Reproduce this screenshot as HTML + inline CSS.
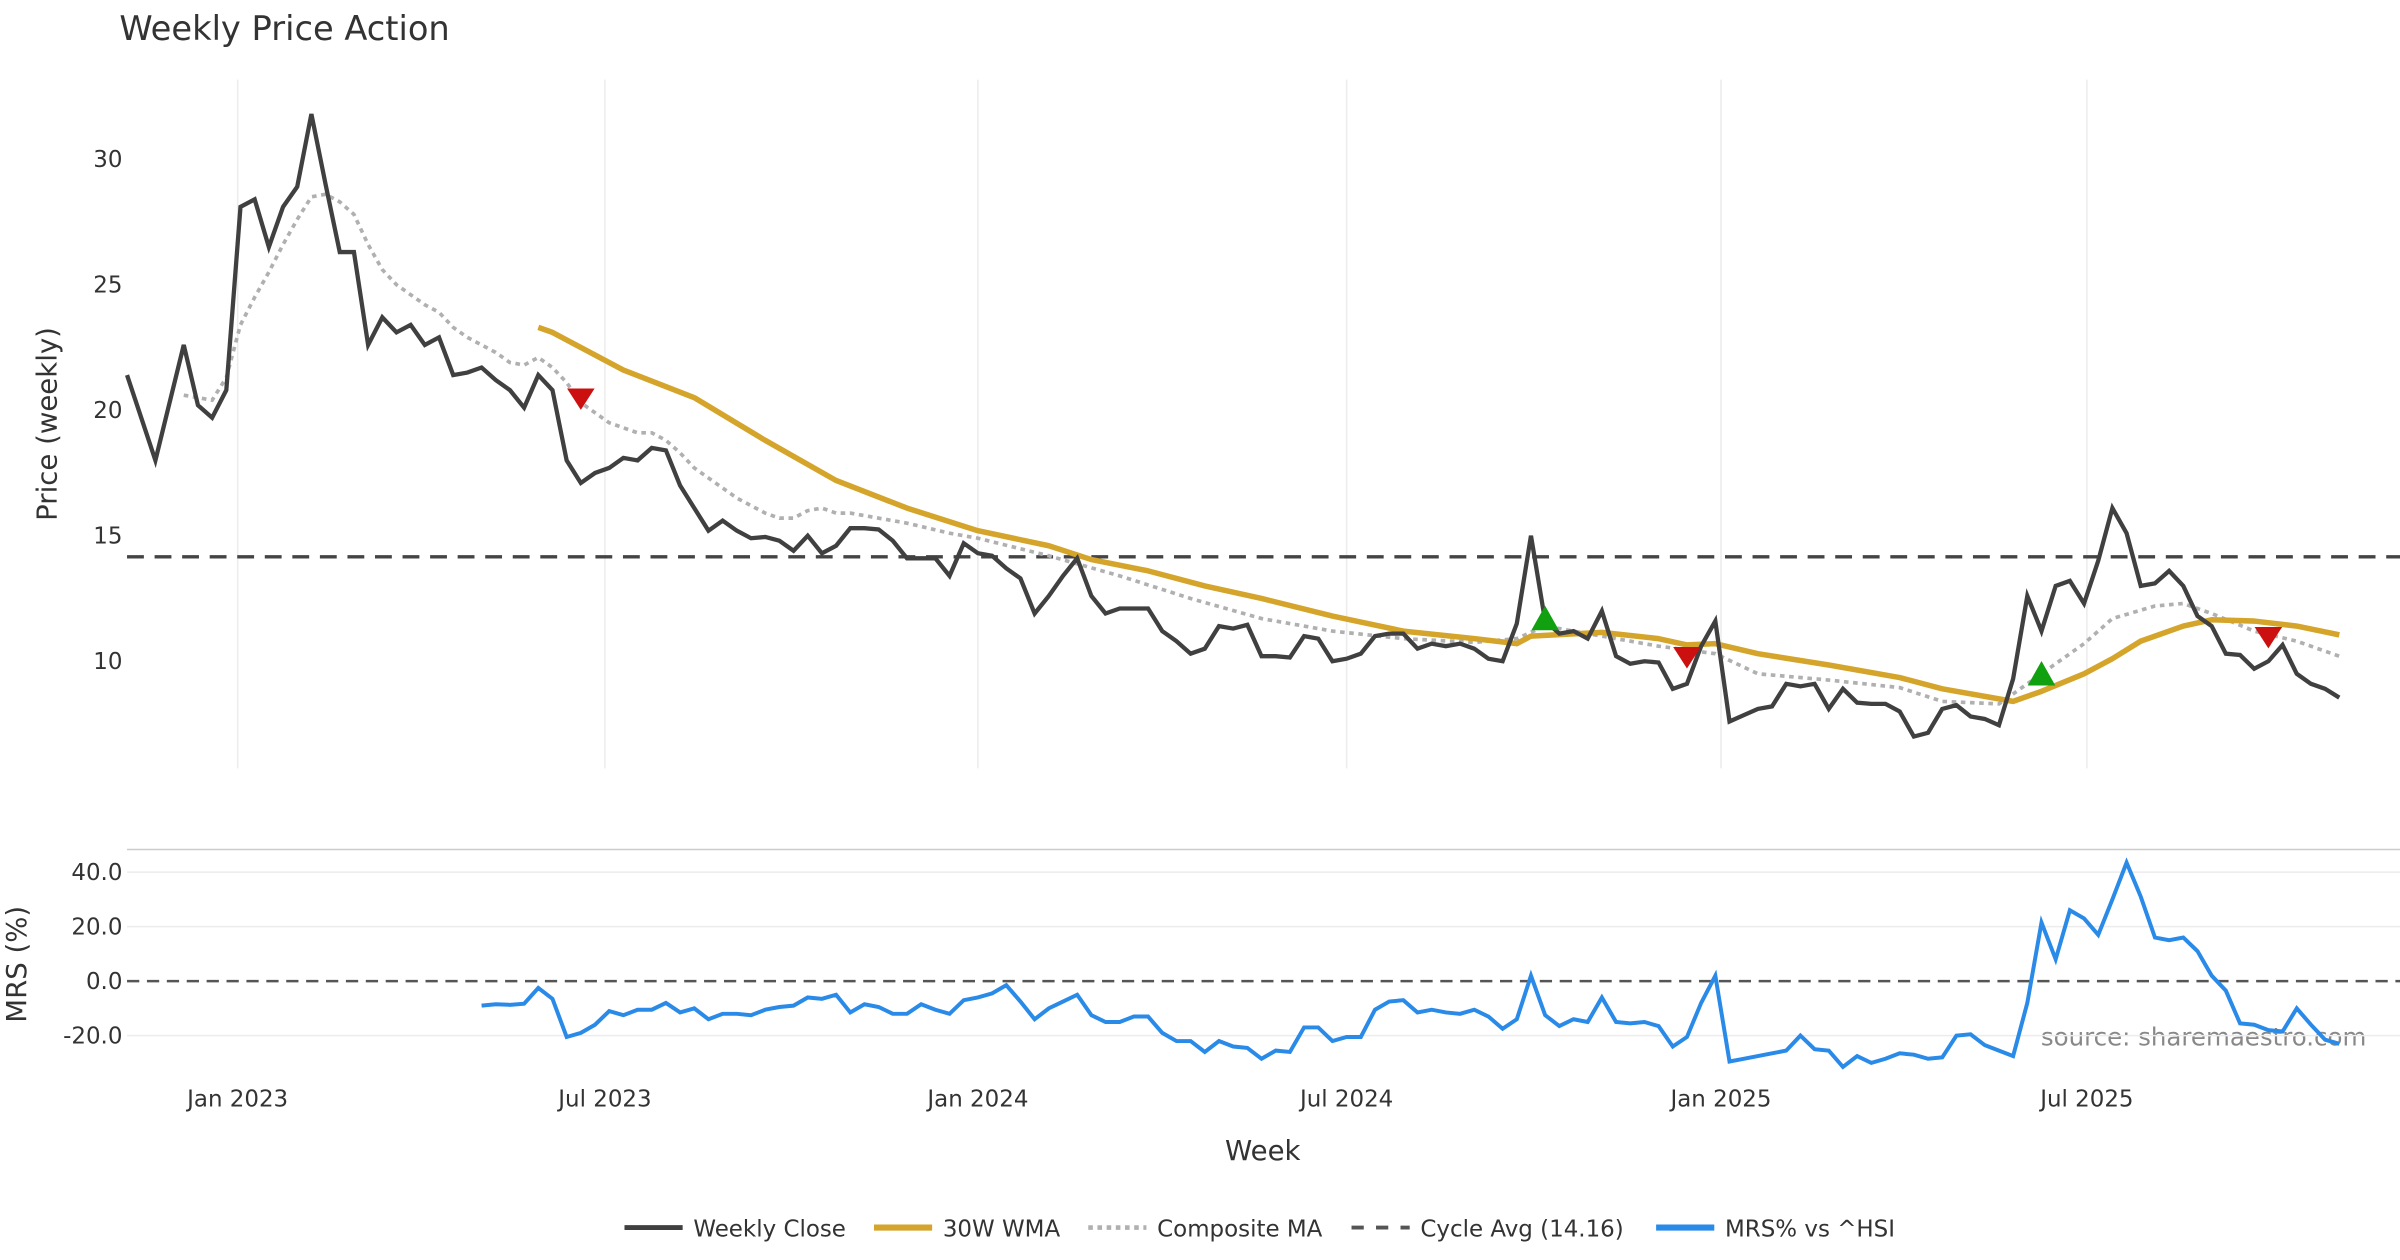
<!DOCTYPE html>
<html><head><meta charset="utf-8"><style>
html,body{margin:0;padding:0;background:#fff;}
svg{display:block;font-family:"DejaVu Sans","Liberation Sans",sans-serif;}
</style></head><body>
<svg id="chart" width="2400" height="1260" viewBox="0 0 1568 823.2" xmlns="http://www.w3.org/2000/svg">
<text x="78" y="26" font-size="22" fill="#333">Weekly Price Action</text>
<text transform="translate(37,277) rotate(-90)" text-anchor="middle" font-size="18" fill="#333">Price (weekly)</text>
<text transform="translate(17,630) rotate(-90)" text-anchor="middle" font-size="18" fill="#333">MRS (%)</text>
<text x="825" y="758" text-anchor="middle" font-size="18" fill="#333">Week</text>
<text x="1546" y="683" text-anchor="end" font-size="16" fill="#888">source: sharemaestro.com</text>
<g id="grid"></g><g id="marks"></g><g id="legend"></g>
</svg>
<script>
const closeVals=[21.4,19.7,18.0,20.3,22.6,20.2,19.7,20.8,28.1,28.4,26.5,28.1,28.9,31.8,29.0,26.3,26.3,22.6,23.7,23.1,23.4,22.6,22.9,21.4,21.5,21.7,21.2,20.8,20.1,21.4,20.8,18.0,17.1,17.5,17.7,18.1,18.0,18.5,18.4,17.0,16.1,15.2,15.6,15.2,14.9,14.95,14.8,14.4,15.0,14.3,14.6,15.3,15.3,15.25,14.8,14.1,14.1,14.1,13.4,14.7,14.3,14.2,13.7,13.3,11.9,12.6,13.4,14.1,12.6,11.9,12.1,12.1,12.1,11.2,10.8,10.3,10.5,11.4,11.3,11.45,10.2,10.2,10.15,11.0,10.9,10.0,10.1,10.3,11.0,11.1,11.1,10.5,10.7,10.6,10.7,10.5,10.1,10.0,11.5,15.0,11.6,11.1,11.2,10.9,12.0,10.2,9.9,10.0,9.95,8.9,9.1,10.6,11.6,7.6,7.85,8.1,8.2,9.1,9.0,9.1,8.1,8.9,8.35,8.3,8.3,8.0,7.0,7.15,8.1,8.25,7.8,7.7,7.45,9.3,12.6,11.2,13.0,13.2,12.3,14.0,16.1,15.1,13.0,13.1,13.6,13.0,11.8,11.4,10.3,10.25,9.7,10.0,10.65,9.5,9.1,8.9,8.55];
const wmaWeeks=[29,30,35,40,45,50,55,60,65,68,72,76,80,85,90,95,98,99,104,108,110,112,115,120,125,128,132,133,135,138,140,142,145,147,150,153,156];
const wmaVals=[23.3,23.1,21.6,20.5,18.8,17.2,16.1,15.2,14.6,14.05,13.6,13.0,12.5,11.8,11.2,10.9,10.7,11.0,11.15,10.9,10.65,10.7,10.3,9.85,9.35,8.9,8.5,8.4,8.8,9.5,10.1,10.8,11.4,11.65,11.6,11.4,11.05];
const compWeeks=[4,5,6,7,8,9,10,11,12,13,14,15,16,17,18,19,20,21,22,23,24,25,26,27,28,29,30,31,32,33,34,35,36,37,38,39,40,41,42,43,44,45,46,47,48,49,50,51,52,55,58,60,65,70,75,80,85,90,95,98,100,104,108,112,115,120,125,128,132,135,138,140,143,145,147,150,153,156];
const compVals=[20.6,20.5,20.4,21.3,23.4,24.5,25.5,26.6,27.6,28.5,28.6,28.3,27.8,26.6,25.6,25.0,24.6,24.2,23.9,23.3,22.9,22.6,22.3,21.9,21.8,22.1,21.7,21.1,20.3,19.9,19.5,19.3,19.1,19.1,18.8,18.3,17.7,17.3,16.9,16.5,16.2,15.9,15.7,15.7,16.0,16.1,15.9,15.9,15.8,15.5,15.1,14.9,14.2,13.4,12.5,11.7,11.2,10.9,10.75,10.9,11.4,11.0,10.6,10.3,9.5,9.25,8.95,8.4,8.3,9.5,10.7,11.7,12.2,12.3,11.9,11.2,10.8,10.2];
const cycleAvg=14.16;
const mrsStart=25;
const mrsVals=[-9,-8.5,-8.7,-8.3,-2.5,-6.5,-20.5,-19,-16,-11,-12.5,-10.5,-10.5,-8,-11.5,-10,-14,-12,-12,-12.5,-10.5,-9.5,-9,-6,-6.5,-5,-11.5,-8.5,-9.5,-12,-12,-8.5,-10.5,-12,-7,-6,-4.5,-1.5,-7.5,-14,-10,-7.5,-5,-12.5,-15,-15,-13,-13,-19,-22,-22,-26,-22,-24,-24.5,-28.5,-25.5,-26,-17,-17,-22,-20.5,-20.5,-10.5,-7.5,-7,-11.5,-10.5,-11.5,-12,-10.5,-13,-17.5,-14,2,-12.5,-16.5,-14,-15,-6,-15,-15.5,-15,-16.5,-24,-20.5,-8,2,-29.5,-28.5,-27.5,-26.5,-25.5,-20,-25,-25.5,-31.5,-27.5,-30,-28.5,-26.5,-27,-28.5,-28,-20,-19.5,-23.5,-25.5,-27.5,-8,21.5,8,26,23,17,30,43.5,31,16,15,16,11,2,-3.5,-15.5,-16,-18,-18.5,-10,-16,-21.5,-23];
const buyWeeks=[100,135];
const buyVals=[11.6,9.4];
const sellWeeks=[32,110,151];
const sellVals=[20.5,10.2,11.0];
const priceTicks=[10,15,20,25,30];
const mrsTicks=[-20,0,20,40];
const monthLabels=["Jan 2023","Jul 2023","Jan 2024","Jul 2024","Jan 2025","Jul 2025"];
const monthWeeks=[7.8,33.7,60.0,86.0,112.4,138.2];

const NS="http://www.w3.org/2000/svg";
const xW=w=>83+w*9.265;
const yP=v=>104+(30-v)*16.4;
const yM=v=>641-v*1.78;
function mk(tag,attrs,parent){const e=document.createElementNS(NS,tag);for(const k in attrs)e.setAttribute(k,attrs[k]);parent.appendChild(e);return e;}
const grid=document.getElementById('grid'),marks=document.getElementById('marks'),leg=document.getElementById('legend');

monthWeeks.forEach((w,i)=>{
  const g=mk('line',{x1:xW(w),x2:xW(w),y1:52,y2:502,stroke:'#ececec','stroke-width':1},grid);
  
  
  const t=mk('text',{x:xW(w),y:723,'text-anchor':'middle','font-size':15,fill:'#333'},grid);
  t.textContent=monthLabels[i];
  
  
});
priceTicks.forEach(v=>{
  const t=mk('text',{x:80,y:yP(v)+5,'text-anchor':'end','font-size':15,fill:'#333'},grid);
  t.textContent=v;
  
  
});
mrsTicks.forEach(v=>{
  if(v!==0){const l=mk('line',{x1:83,x2:1568,y1:yM(v),y2:yM(v),stroke:'#ececec','stroke-width':1},grid);
  
  }
  const t=mk('text',{x:80,y:yM(v)+5,'text-anchor':'end','font-size':15,fill:'#333'},grid);
  t.textContent=v.toFixed(1);
  
  
});
const sep=mk('line',{x1:83,x2:1568,y1:555,y2:555,stroke:'#ccc','stroke-width':1},grid);


const z=mk('line',{x1:83,x2:1568,y1:yM(0),y2:yM(0),stroke:'#555','stroke-width':1.6,'stroke-dasharray':'8,5'},grid);



const cyc=mk('line',{x1:83,x2:1568,y1:yP(cycleAvg),y2:yP(cycleAvg),stroke:'#444','stroke-width':2.2,'stroke-dasharray':'11,7'},marks);



const cp=mk('polyline',{points:compWeeks.map((w,i)=>xW(w)+','+yP(compVals[i])).join(' '),fill:'none',stroke:'#b0b0b0','stroke-width':2.4,'stroke-dasharray':'3,3'},marks);


const wm=mk('polyline',{points:wmaWeeks.map((w,i)=>xW(w)+','+yP(wmaVals[i])).join(' '),fill:'none',stroke:'#d4a52a','stroke-width':3.6,'stroke-linejoin':'round'},marks);


const cl=mk('polyline',{points:closeVals.map((v,i)=>xW(i)+','+yP(v)).join(' '),fill:'none',stroke:'#404040','stroke-width':2.8,'stroke-linejoin':'miter'},marks);


const mr=mk('polyline',{points:mrsVals.map((v,i)=>xW(i+mrsStart)+','+yM(v)).join(' '),fill:'none',stroke:'#2a8ae8','stroke-width':2.6},marks);



buyWeeks.forEach((w,i)=>{const x=xW(w),y=yP(buyVals[i]);
  const p=mk('polygon',{points:`${x-9},${y+6} ${x+9},${y+6} ${x},${y-10}`,fill:'#10a010'},marks);
  
  });
sellWeeks.forEach((w,i)=>{const x=xW(w),y=yP(sellVals[i]);
  const p=mk('polygon',{points:`${x-9},${y-6} ${x+9},${y-6} ${x},${y+8}`,fill:'#cc1010'},marks);
  
  });

const items=[["Weekly Close",408,'#404040',3.2,null],["30W WMA",571,'#d4a52a',4,null],["Composite MA",711,'#b0b0b0',3,'3,3'],["Cycle Avg (14.16)",883,'#555',2.5,'8,8'],["MRS% vs ^HSI",1082,'#2a8ae8',4,null]];
items.forEach(it=>{
  const l=mk('line',{x1:it[1],x2:it[1]+38,y1:802,y2:802,stroke:it[2],'stroke-width':it[3]},leg);
  if(it[4])l.setAttribute('stroke-dasharray',it[4]);
  
  
  const t=mk('text',{x:it[1]+45,y:808,'font-size':15,fill:'#333'},leg);
  t.textContent=it[0];
  
  
});
</script>
</body></html>
